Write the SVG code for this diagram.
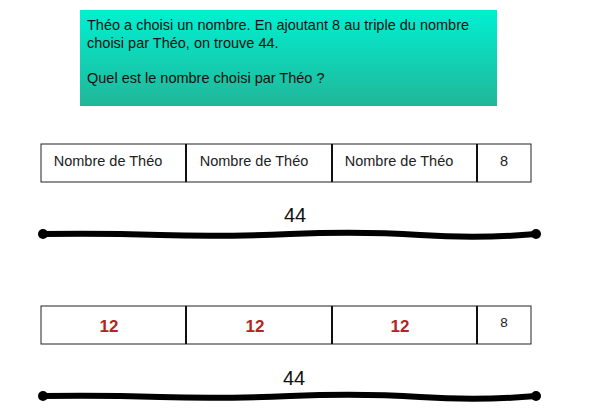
<svg xmlns="http://www.w3.org/2000/svg" width="603" height="414" viewBox="0 0 603 414">
<defs>
<linearGradient id="g" x1="0" y1="0" x2="0" y2="1">
<stop offset="0" stop-color="#00f0d2"/>
<stop offset="1" stop-color="#22b698"/>
</linearGradient>
</defs>
<style>
.t{font-family:"Liberation Sans",Arial,sans-serif;fill:#111}
.q{font-size:14.5px}
.c{font-size:14.5px;text-anchor:middle;fill:#222}
.r{font-size:17px;font-weight:bold;text-anchor:middle;fill:#b0261e}
.b{fill:#fff;stroke:#222;stroke-width:1}
.d{stroke:#111;stroke-width:2}
.big{font-size:20px;text-anchor:middle;fill:#111}
.ln{stroke:#000;stroke-width:6;stroke-linecap:round;fill:none}
</style>
<rect width="603" height="414" fill="#fff"/>
<g id="question">
<rect x="80" y="10" width="417" height="96" fill="url(#g)"/>
<text class="t q" x="87" y="30">Théo a choisi un nombre. En ajoutant 8 au triple du nombre</text>
<text class="t q" x="87" y="48">choisi par Théo, on trouve 44.</text>
<text class="t q" x="87" y="83">Quel est le nombre choisi par Théo ?</text>
</g>
<g id="bar1">
<rect class="b" x="41" y="144" width="490" height="38"/>
<line class="d" x1="186" y1="144" x2="186" y2="182"/>
<line class="d" x1="332" y1="144" x2="332" y2="182"/>
<line class="d" x1="477" y1="144" x2="477" y2="182"/>
<text class="t c" x="108" y="166">Nombre de Théo</text>
<text class="t c" x="254" y="166">Nombre de Théo</text>
<text class="t c" x="399" y="166">Nombre de Théo</text>
<text class="t c" x="504" y="166">8</text>
</g>
<g id="total1">
<text class="t big" x="295" y="222">44</text>
<path class="ln" d="M43 234 Q100 233 160 235 T290 234 T420 235 T536 234"/>
<circle cx="43" cy="234" r="5"/>
<circle cx="536" cy="234" r="5"/>
</g>
<g id="bar2">
<rect class="b" x="41" y="306" width="490" height="38"/>
<line class="d" x1="186" y1="306" x2="186" y2="344"/>
<line class="d" x1="332" y1="306" x2="332" y2="344"/>
<line class="d" x1="477" y1="306" x2="477" y2="344"/>
<text class="t r" x="109" y="332">12</text>
<text class="t r" x="255" y="332">12</text>
<text class="t r" x="400" y="332">12</text>
<text class="t c" x="504" y="327" style="font-size:13.5px">8</text>
</g>
<g id="total2">
<text class="t big" x="294" y="385">44</text>
<path class="ln" d="M43 396 Q100 395 160 397 T290 396 T420 397 T536 396"/>
<circle cx="43" cy="396" r="5"/>
<circle cx="536" cy="396" r="5"/>
</g>
</svg>
